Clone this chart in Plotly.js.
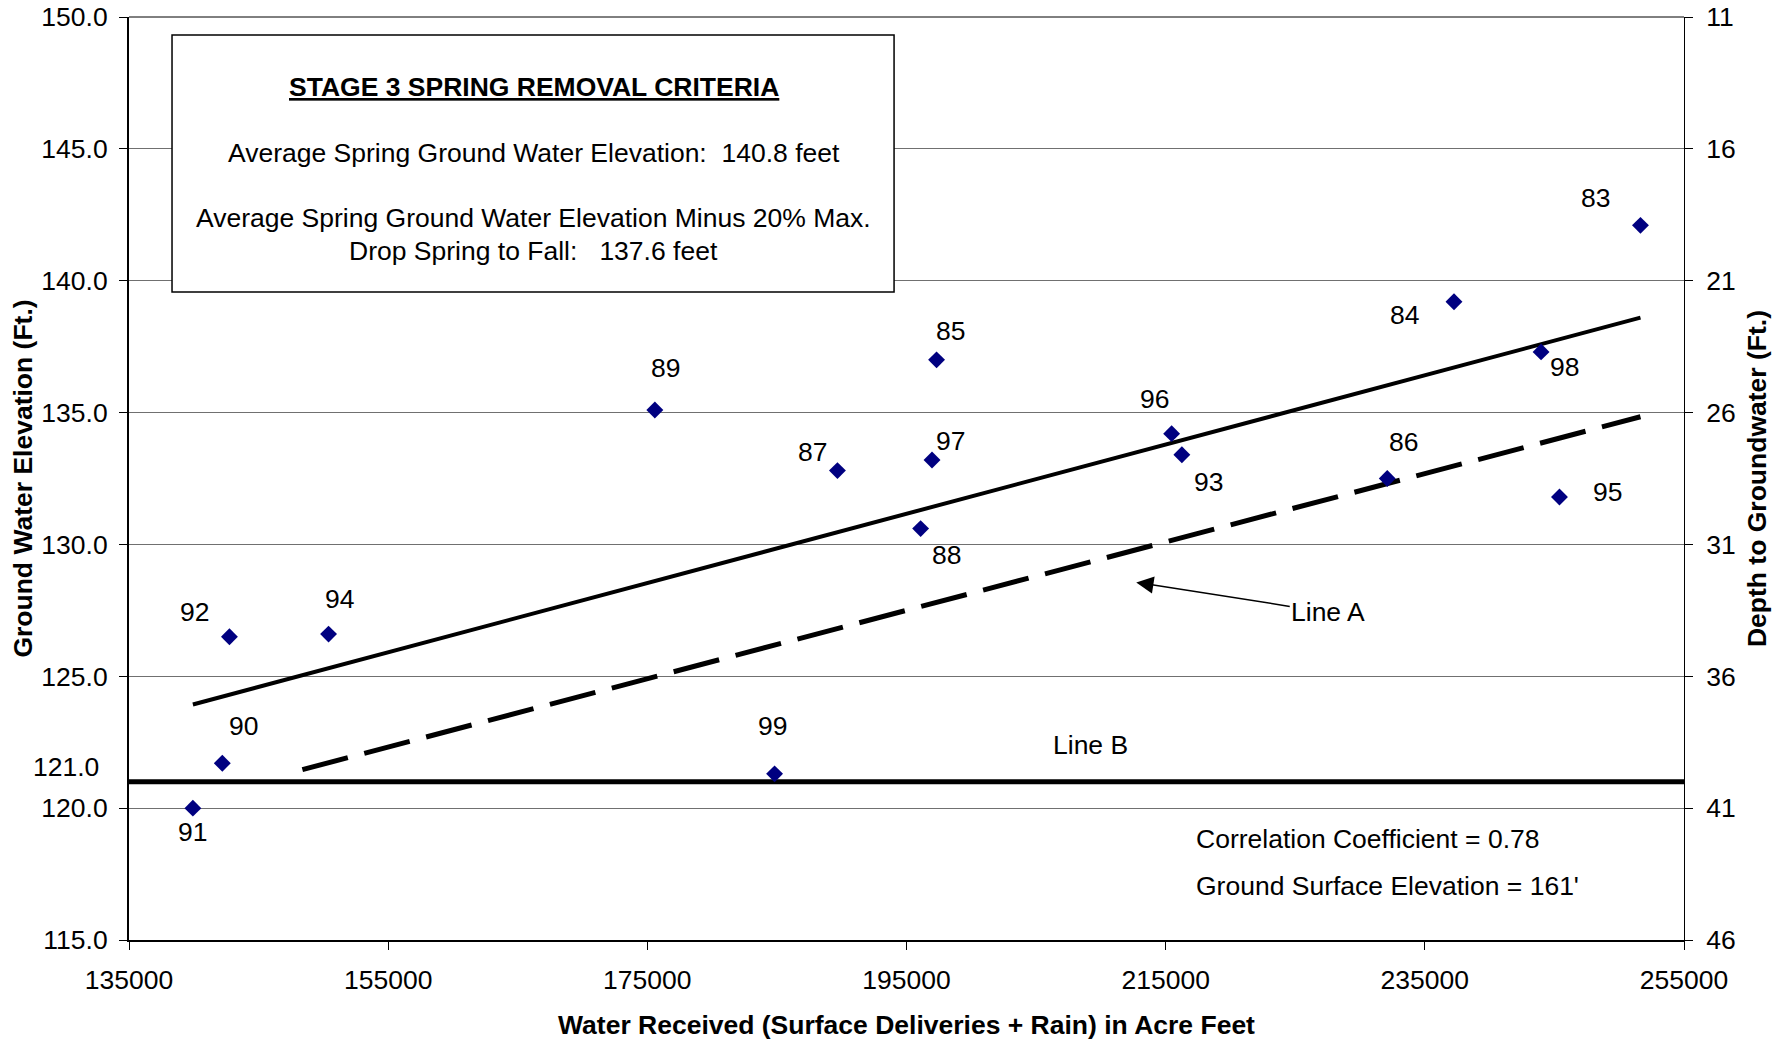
<!DOCTYPE html>
<html>
<head>
<meta charset="utf-8">
<script src="https://cdn.plot.ly/plotly-3.0.1.min.js"></script>
<style>
  html, body { margin: 0; padding: 0; background: #ffffff; }
  #chart { width: 1791px; height: 1040px; }
</style>
</head>
<body>
<div id="chart"></div>
<script>
// ---------------- data ----------------
const years      = ['83','84','85','86','87','88','89','90','91','92','93','94','95','96','97','98','99'];
const waterRecv  = [251640,237250,197320,232100,189670,196090,175580,142200,139930,142750,216250,150400,245390,215460,196970,243970,184820];
const gwElev     = [142.1, 139.2, 137.0, 132.5, 132.8, 130.6, 135.1, 121.7, 120.0, 126.5, 133.4, 126.6, 131.8, 134.2, 133.2, 137.3, 121.3];

const groundSurface = 161;          // ft, used for depth axis
const trendX = [139930, 251640];    // regression line (solid)
const trendY = [123.93, 138.6];
const lineAX = [148380, 251640];    // Line A (dashed)
const lineAY = [121.46, 134.84];
const lineBX = [135000, 255000];    // Line B (horizontal)
const lineBY = [121.0, 121.0];

const xTicks   = [135000,155000,175000,195000,215000,235000,255000];
const yTicks   = [115,120,125,130,135,140,145,150];
const y2Ticks  = [11,16,21,26,31,36,41,46];

const boxTitle = 'STAGE 3 SPRING REMOVAL CRITERIA';
const boxLines = ['Average Spring Ground Water Elevation:  140.8 feet',
                  'Average Spring Ground Water Elevation Minus 20% Max.',
                  'Drop Spring to Fall:   137.6 feet'];
const corrText  = 'Correlation Coefficient = 0.78';
const surfText  = "Ground Surface Elevation = 161'";

// ---------------- styles / label offsets (px) ----------------
const labelDX = [-45,-49, 14, 16,-25, 26, 11, 21,  0,-35, 27, 11, 48,-17, 18, 23, -2];
const labelDY = [-27, 13,-29,-37,-19, 26,-42,-37, 24,-25, 27,-35, -5,-35,-19, 15,-48];

const FONT = 'Liberation Sans, Arial, Helvetica, sans-serif';
const FS = 26.5;

// ---------------- traces ----------------
const traces = [
  {
    x: trendX, y: trendY, mode: 'lines', type: 'scatter',
    line: { color: '#000000', width: 4 }, hoverinfo: 'skip', showlegend: false
  },
  {
    x: lineAX, y: lineAY, mode: 'lines', type: 'scatter',
    line: { color: '#000000', width: 5, dash: '47px,17px' }, hoverinfo: 'skip', showlegend: false
  },
  {
    x: lineBX, y: lineBY, mode: 'lines', type: 'scatter',
    line: { color: '#000000', width: 5 }, hoverinfo: 'skip', showlegend: false
  },
  {
    x: waterRecv, y: gwElev, mode: 'markers', type: 'scatter', text: years,
    marker: { symbol: 'diamond', size: 13, color: '#000080' }, showlegend: false
  },
  {
    x: waterRecv, y: gwElev.map(v => groundSurface - v), yaxis: 'y2',
    mode: 'markers', type: 'scatter', marker: { opacity: 0 }, hoverinfo: 'skip', showlegend: false
  }
];

// ---------------- annotations ----------------
const annotations = [];
years.forEach((yr, i) => {
  annotations.push({
    x: waterRecv[i], y: gwElev[i], xref: 'x', yref: 'y', text: yr, showarrow: false,
    xshift: labelDX[i], yshift: -labelDY[i],
    font: { family: FONT, size: FS, color: '#000000' }
  });
});

const boxCX = 166250;
annotations.push({ x: boxCX, y: 147.36, xref: 'x', yref: 'y', text: '<b>' + boxTitle + '</b>', showarrow: false,
  font: { family: FONT, size: FS, color: '#000', lineposition: 'under' } });
annotations.push({ x: boxCX, y: 144.85, xref: 'x', yref: 'y', text: boxLines[0], showarrow: false,
  font: { family: FONT, size: FS, color: '#000' } });
annotations.push({ x: boxCX, y: 142.38, xref: 'x', yref: 'y', text: boxLines[1], showarrow: false,
  font: { family: FONT, size: FS, color: '#000' } });
annotations.push({ x: boxCX, y: 141.12, xref: 'x', yref: 'y', text: boxLines[2], showarrow: false,
  font: { family: FONT, size: FS, color: '#000' } });

annotations.push({ x: 217220, y: 118.82, xref: 'x', yref: 'y', text: corrText, showarrow: false, xanchor: 'left',
  font: { family: FONT, size: FS, color: '#000' } });
annotations.push({ x: 217220, y: 117.04, xref: 'x', yref: 'y', text: surfText, showarrow: false, xanchor: 'left',
  font: { family: FONT, size: FS, color: '#000' } });

annotations.push({ x: 209210, y: 122.41, xref: 'x', yref: 'y', text: 'Line B', showarrow: false,
  font: { family: FONT, size: FS, color: '#000' } });

annotations.push({ x: 212730, y: 128.56, xref: 'x', yref: 'y', text: 'Line A', showarrow: true,
  ax: 192, ay: 30, arrowhead: 2, arrowsize: 2.3, arrowwidth: 1.5, arrowcolor: '#000',
  font: { family: FONT, size: FS, color: '#000' } });

annotations.push({ x: 0, xref: 'paper', y: lineBY[0], yref: 'y', text: lineBY[0].toFixed(1), showarrow: false,
  xanchor: 'right', xshift: -28, yshift: 15, font: { family: FONT, size: FS, color: '#000' } });

// ---------------- layout ----------------
const layout = {
  width: 1791, height: 1040,
  margin: { l: 129, r: 107, t: 17, b: 100 },
  paper_bgcolor: '#ffffff', plot_bgcolor: '#ffffff',
  font: { family: FONT, size: FS, color: '#000000' },
  showlegend: false,
  xaxis: {
    range: [135000, 255000], tickvals: xTicks, ticktext: xTicks.map(String),
    showgrid: false, zeroline: false, showline: true, linecolor: '#000', linewidth: 2,
    ticks: 'outside', ticklen: 8, tickcolor: '#000', tickwidth: 1, ticklabelstandoff: 7,
    tickfont: { family: FONT, size: FS },
    title: { text: '<b>Water Received (Surface Deliveries + Rain) in Acre Feet</b>', standoff: 26,
             font: { family: FONT, size: FS } }
  },
  yaxis: {
    range: [115, 150], tickvals: yTicks, ticktext: yTicks.map(v => v.toFixed(1)),
    showgrid: true, gridcolor: '#707070', gridwidth: 1,
    zeroline: false, showline: true, linecolor: '#000', linewidth: 2,
    ticks: 'outside', ticklen: 8, tickcolor: '#000', tickwidth: 1, ticklabelstandoff: 6,
    tickfont: { family: FONT, size: FS },
    title: { text: '<b>Ground Water Elevation (Ft.)</b>', standoff: 1, font: { family: FONT, size: FS } }
  },
  yaxis2: {
    overlaying: 'y', side: 'right', range: [46, 11], tickvals: y2Ticks, ticktext: y2Ticks.map(String),
    showgrid: false, zeroline: false, showline: true, linecolor: '#000', linewidth: 1,
    ticks: 'outside', ticklen: 8, tickcolor: '#000', tickwidth: 1, ticklabelstandoff: 8,
    tickfont: { family: FONT, size: FS },
    title: { text: '<b>Depth to Groundwater (Ft.)</b>', standoff: 12, font: { family: FONT, size: FS } }
  },
  shapes: [
    { type: 'line', xref: 'paper', yref: 'paper', x0: 0, x1: 1, y0: 1, y1: 1,
      line: { color: '#000', width: 1 } },
    { type: 'rect', xref: 'x', yref: 'y', x0: 138320, x1: 194040, y0: 139.57, y1: 149.32,
      fillcolor: '#ffffff', line: { color: '#000', width: 1.5 }, layer: 'above' }
  ],
  annotations: annotations
};

Plotly.newPlot('chart', traces, layout, { displayModeBar: false, staticPlot: true });
</script>
</body>
</html>
